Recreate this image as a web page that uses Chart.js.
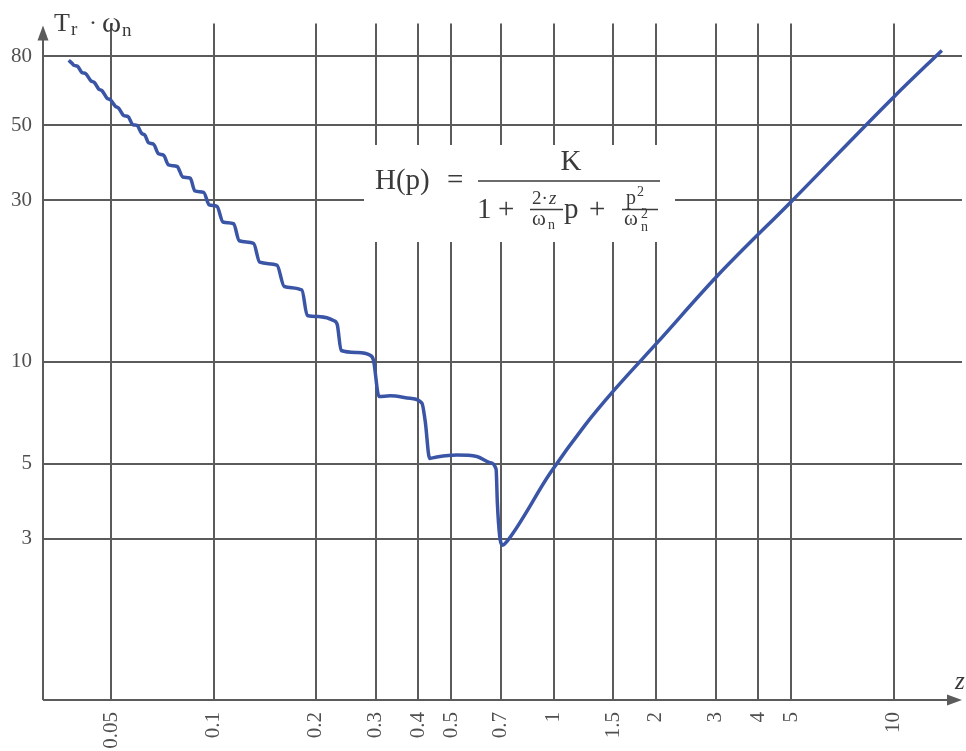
<!DOCTYPE html>
<html><head><meta charset="utf-8">
<script src="https://cdn.jsdelivr.net/npm/chart.js@4.4.1/dist/chart.umd.min.js"></script>
<style>html,body{margin:0;padding:0;background:#fff}#wrap{width:966px;height:751px;position:relative}</style>
</head><body><div id="wrap"><canvas id="c"></canvas></div>
<script>
// damping ratio z (x) and normalised 5% settling time Tr·ωn (y)
const dampingZ = [
  0.0375,0.0384,0.0388,0.0398,0.0410,0.0420,0.0436,0.0446,0.0459,0.0470,
  0.0486,0.0497,0.0514,0.0526,0.0544,0.0560,0.0580,0.0595,0.0615,0.0628,
  0.0644,0.0666,0.0689,0.0713,0.0737,0.0781,0.0812,0.0854,0.0881,0.0935,
  0.0971,0.1023,0.1066,0.1145,0.1190,0.1311,0.1367,0.1536,0.1614,0.1819,
  0.1886,0.2059,0.2253,0.2310,0.2373,0.2639,0.2888,0.2954,0.3066,0.3307,
  0.3786,0.4100,0.4193,0.4320,0.4536,0.5193,0.5946,0.6507,0.6776,0.6836,
  0.6939,0.7090,0.7284,0.9766,1.238,1.516,2.015,3.024,5.024,10.02,13.87
];
const settlingTime = [
  77.9,76.2,75.3,74.8,71.7,71.2,67.7,67.0,64.1,63.3,
  60.2,59.6,57.0,56.2,53.5,53.1,50.2,50.0,47.3,46.8,
  44.4,44.0,41.2,40.8,38.2,37.8,35.2,34.9,32.0,31.7,
  29.1,28.8,25.9,25.6,22.8,22.4,19.7,19.3,16.7,16.3,
  13.7,13.6,13.25,12.9,10.8,10.66,10.45,10.1,7.90,7.93,
  7.80,7.55,6.67,5.18,5.23,5.30,5.25,5.03,4.81,3.81,
  3.07,2.87,2.94,4.68,6.5,8.3,11.37,17.9,29.9,60.7,83.3
];
const xTickValues = [0.05,0.1,0.2,0.3,0.4,0.5,0.7,1,1.5,2,3,4,5,10];
const xTickLabels = ['0.05','0.1','0.2','0.3','0.4','0.5','0.7','1','1.5','2','3','4','5','10'];
const yTickValues = [3,5,10,30,50,80];
const yTickLabels = ['3','5','10','30','50','80'];

const GRID = '#5b5b5b';
const TEXT = '#505050';
const SERIF = '"Liberation Serif", "DejaVu Serif", serif';

function txt(ctx, s, x, y, size, italic) {
  ctx.font = (italic ? 'italic ' : '') + size + 'px ' + SERIF;
  ctx.fillText(s, x, y);
}

const overlay = {
  id: 'overlay',
  beforeDatasetsDraw(chart) {
    const ctx = chart.ctx, a = chart.chartArea;
    ctx.save();
    // formula background
    ctx.fillStyle = '#fff';
    ctx.fillRect(364, 145, 311, 97);
    // axes with arrows
    ctx.strokeStyle = GRID; ctx.fillStyle = GRID; ctx.lineWidth = 2;
    ctx.beginPath();
    ctx.moveTo(a.left, a.bottom); ctx.lineTo(a.right - 10, a.bottom);
    ctx.moveTo(a.left, a.bottom); ctx.lineTo(a.left, a.top + 12);
    ctx.stroke();
    ctx.beginPath();
    ctx.moveTo(a.right, a.bottom); ctx.lineTo(a.right - 15, a.bottom - 5.5); ctx.lineTo(a.right - 15, a.bottom + 5.5);
    ctx.closePath(); ctx.fill();
    ctx.beginPath();
    ctx.moveTo(a.left, a.top + 2); ctx.lineTo(a.left - 5.5, a.top + 17); ctx.lineTo(a.left + 5.5, a.top + 17);
    ctx.closePath(); ctx.fill();

    // axis titles
    ctx.fillStyle = '#3a3a3a';
    ctx.textAlign = 'left'; ctx.textBaseline = 'alphabetic';
    txt(ctx, 'T', 54, 31, 26);
    txt(ctx, 'r', 71, 35, 19);
    txt(ctx, '·', 89, 30, 24);
    txt(ctx, 'ω', 102, 32, 29);
    txt(ctx, 'n', 122, 36, 19);
    txt(ctx, 'z', 955, 689, 25, true);

    // formula
    txt(ctx, 'H(p)', 375, 189, 29);
    txt(ctx, '=', 447, 189, 29);
    ctx.lineWidth = 1.4; ctx.strokeStyle = '#3a3a3a';
    ctx.beginPath(); ctx.moveTo(478, 181); ctx.lineTo(660, 181); ctx.stroke();
    ctx.textAlign = 'center';
    txt(ctx, 'K', 571, 170, 29);
    ctx.textAlign = 'left';
    txt(ctx, '1', 477, 218, 29);
    txt(ctx, '+', 498, 218, 29);
    txt(ctx, '2·', 532, 204, 19);
    txt(ctx, 'z', 549, 204, 19, true);
    ctx.beginPath(); ctx.moveTo(530, 209.5); ctx.lineTo(563, 209.5); ctx.stroke();
    txt(ctx, 'ω', 532, 225, 21);
    txt(ctx, 'n', 548, 229, 14);
    txt(ctx, 'p', 564, 218, 29);
    txt(ctx, '+', 589, 218, 29);
    txt(ctx, 'p', 626, 204, 20);
    txt(ctx, '2', 637, 196, 14);
    ctx.beginPath(); ctx.moveTo(622, 209.5); ctx.lineTo(658, 209.5); ctx.stroke();
    txt(ctx, 'ω', 624, 225, 21);
    txt(ctx, '2', 641, 218, 14);
    txt(ctx, 'n', 641, 231, 14);
    ctx.restore();
  }
};

new Chart(document.getElementById('c'), {
  type: 'line',
  data: {
    datasets: [{
      data: dampingZ.map((z, i) => ({ x: z, y: settlingTime[i] })),
      borderColor: '#3a55a6',
      borderWidth: 3.5,
      pointRadius: 0,
      fill: false,
      cubicInterpolationMode: 'monotone'
    }]
  },
  options: {
    responsive: true,
    maintainAspectRatio: false,
    animation: false,
    layout: { padding: { left: 0, right: 4, top: 20, bottom: 0 } },
    plugins: { legend: { display: false }, tooltip: { enabled: false } },
    scales: {
      x: {
        type: 'logarithmic',
        min: 0.0315, max: 15.9,
        afterBuildTicks: s => { s.ticks = xTickValues.map(v => ({ value: v })); },
        afterFit: s => { s.height = 51; },
        border: { display: false },
        grid: { color: GRID, lineWidth: 2, drawTicks: false },
        ticks: {
          autoSkip: false, minRotation: 90, maxRotation: 90, padding: 12,
          color: TEXT, font: { family: SERIF, size: 21 },
          callback: (v, i) => xTickLabels[i]
        }
      },
      y: {
        type: 'logarithmic',
        min: 1, max: 100,
        afterBuildTicks: s => { s.ticks = yTickValues.map(v => ({ value: v })); },
        afterFit: s => { s.width = 43; },
        border: { display: false },
        grid: { color: GRID, lineWidth: 2, drawTicks: false },
        ticks: {
          autoSkip: false, padding: 11,
          color: TEXT, font: { family: SERIF, size: 21 },
          callback: (v, i) => yTickLabels[i]
        }
      }
    }
  },
  plugins: [overlay]
});
</script>
</body></html>
